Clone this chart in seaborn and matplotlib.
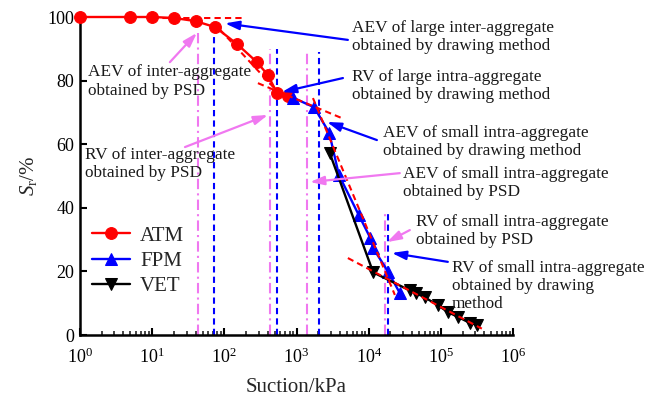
import matplotlib
matplotlib.use("Agg")
import matplotlib.pyplot as plt
import matplotlib.ticker as mticker
import seaborn as sns
import pandas as pd

# ---------------- data ----------------
atm_suction = [1, 5, 10, 20, 40, 75, 150, 280, 400, 540, 770]
atm_sr = [100, 100, 100, 99.7, 98.7, 96.8, 91.5, 85.9, 81.8, 76.0, 75.2]
fpm_suction = [900, 1760, 2840, 3870, 7300, 10600, 11540, 18600, 27000]
fpm_sr = [74.6, 71.6, 63.6, 50.3, 37.7, 30.4, 27.3, 19.9, 13.2]
vet_suction = [2900, 11540, 37200, 45000, 60000, 90800, 125000, 172000, 252000, 315000]
vet_sr = [57.1, 19.7, 14.0, 13.2, 11.8, 9.4, 7.2, 5.7, 3.8, 3.3]

# characteristic suctions (kPa) and top of their vertical marker lines (%)
psd_suction = [43, 428, 1380, 17100]
psd_top = [95, 90, 89.6, 38.8]
draw_suction = [72.5, 540, 2060, 18600]
draw_top = [97, 90, 89, 39.3]

# tangent lines of the drawing method
tangent_x = [[10, 175], [69.5, 648], [292, 4250], [1690, 23060], [5150, 370000]]
tangent_y = [[99.6, 99.6], [98.4, 74.7], [79.2, 68.2], [74.5, 12.6], [24.2, 2.0]]

# annotations: text, text position (suction, Sr), arrow start, arrow end, colour
ann_texts = [
    "AEV of large inter-aggregate\nobtained by drawing method",
    "RV of large intra-aggregate\nobtained by drawing method",
    "AEV of small intra-aggregate\nobtained by drawing method",
    "AEV of small intra-aggregate\nobtained by PSD",
    "RV of small intra-aggregate\nobtained by PSD",
    "RV of small intra-aggregate\nobtained by drawing\nmethod",
    "AEV of inter-aggregate\nobtained by PSD",
    "RV of inter-aggregate\nobtained by PSD",
]
ann_text_pos = [(5850, 93.8), (5850, 78.3), (15600, 60.6), (30000, 47.7),
                (45000, 32.8), (141000, 15.5), (1.30, 79.7), (1.17, 53.8)]
ann_arrow_from = [(5150, 92.8), (4400, 80.8), (13000, 61.3), (27000, 50.9),
                  (37200, 33.0), (125000, 23.0), (17.6, 85.8), (28.5, 59.1)]
ann_arrow_to = [(102, 98.0), (628, 76.4), (2640, 67.0), (1535, 48.1),
                (17900, 29.2), (20900, 25.8), (41.7, 95.0), (402, 69.2)]
ann_kind = ["draw", "draw", "draw", "psd", "psd", "draw", "psd", "psd"]

RED, BLUE, BLACK, PINK = "#FF0000", "#0000FF", "#000000", "#F078F0"

# ---------------- style ----------------
sns.set_theme(style="ticks")
plt.rcParams["font.family"] = ["Liberation Serif", "DejaVu Serif"]
plt.rcParams["mathtext.fontset"] = "custom"
plt.rcParams["mathtext.rm"] = "Liberation Serif"
plt.rcParams["mathtext.it"] = "Liberation Serif:italic"

fig = plt.figure(figsize=(6.46, 4.01), dpi=100)
ax = fig.add_axes([80 / 646, 66 / 401, 433 / 646, 318 / 401])

# reference verticals
for s, top in zip(psd_suction, psd_top):
    ax.plot([s, s], [0, top], color=PINK, lw=1.5, dashes=(5, 2, 1, 2), zorder=1)
for s, top in zip(draw_suction, draw_top):
    ax.plot([s, s], [0, top], color=BLUE, lw=1.5, dashes=(3, 2), zorder=1)

# tangent lines
for xs, ys in zip(tangent_x, tangent_y):
    ax.plot(xs, ys, color=RED, lw=1.5, dashes=(3, 2), zorder=4)

# series
df_atm = pd.DataFrame({"s": atm_suction, "Sr": atm_sr})
df_fpm = pd.DataFrame({"s": fpm_suction, "Sr": fpm_sr})
df_vet = pd.DataFrame({"s": vet_suction, "Sr": vet_sr})
sns.lineplot(data=df_atm, x="s", y="Sr", ax=ax, color=RED, marker="o", markersize=8.5,
             markeredgecolor=RED, lw=1.7, label="ATM", clip_on=False, zorder=3)
sns.lineplot(data=df_fpm, x="s", y="Sr", ax=ax, color=BLUE, marker="^", markersize=8.5,
             markeredgecolor=BLUE, lw=1.7, label="FPM", clip_on=False, zorder=3)
sns.lineplot(data=df_vet, x="s", y="Sr", ax=ax, color=BLACK, marker="v", markersize=8.5,
             markeredgecolor=BLACK, lw=1.7, label="VET", clip_on=False, zorder=3)

# annotations
for txt, tp, a0, a1, kind in zip(ann_texts, ann_text_pos, ann_arrow_from, ann_arrow_to, ann_kind):
    col = BLUE if kind == "draw" else PINK
    ax.text(tp[0], tp[1], txt, ha="left", va="center", fontsize=12.4, color="#1a1a1a",
            linespacing=1.18, zorder=5)
    ax.annotate("", xy=a1, xytext=a0,
                arrowprops=dict(arrowstyle="-|>,head_length=0.7,head_width=0.22",
                                color=col, lw=1.6, shrinkA=0, shrinkB=0),
                zorder=5)

ax.set_xscale("log")
ax.set_xlim(1, 1e6)
ax.set_ylim(0, 100)
ax.xaxis.set_major_locator(mticker.FixedLocator([1e0, 1e1, 1e2, 1e3, 1e4, 1e5, 1e6]))
ax.xaxis.set_major_formatter(mticker.FixedFormatter(
    ["$10^{0}$", "$10^{1}$", "$10^{2}$", "$10^{3}$", "$10^{4}$", "$10^{5}$", "$10^{6}$"]))
ax.xaxis.set_minor_formatter(mticker.NullFormatter())
ax.set_yticks([0, 20, 40, 60, 80, 100])
ax.set_xlabel("Suction/kPa", fontsize=15, labelpad=8)
ax.set_ylabel("$S_{\\mathrm{r}}$/%", fontsize=15, labelpad=6)
ax.tick_params(axis="both", which="major", direction="in", length=5, width=1.5,
               labelsize=13, colors="black")
ax.tick_params(axis="x", which="major", pad=9)
ax.tick_params(axis="y", which="major", pad=4)
ax.tick_params(axis="x", which="minor", direction="in", length=3, width=1.2)
ax.tick_params(axis="y", which="minor", left=False)
for side in ["top", "right"]:
    ax.spines[side].set_visible(False)
for side in ["left", "bottom"]:
    ax.spines[side].set_linewidth(1.8)
    ax.spines[side].set_color("black")

leg = ax.legend(loc="upper left", bbox_to_anchor=(92 / 646, 1 - 226 / 401),
                bbox_transform=fig.transFigure, frameon=False, fontsize=15,
                handlelength=1.8, handletextpad=0.5, labelspacing=0.28,
                borderaxespad=0, borderpad=0)

fig.savefig("out.png", dpi=100)
